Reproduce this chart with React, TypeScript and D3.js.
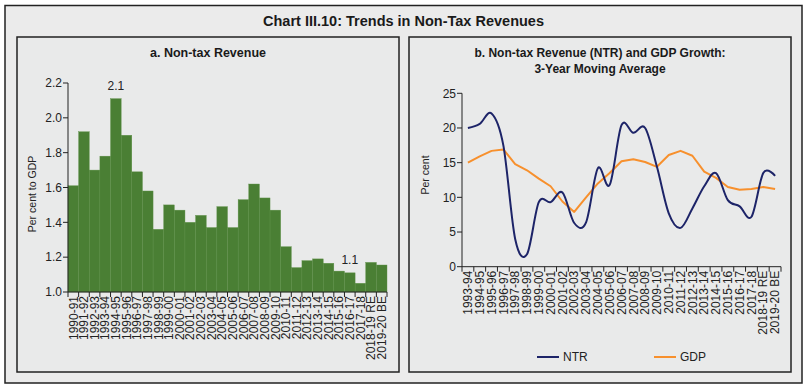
import React, { useEffect, useRef } from 'react';
import * as d3 from 'd3';

// panel a: non-tax revenue, per cent to GDP
const yearsA = [
  '1990-91', '1991-92', '1992-93', '1993-94', '1994-95', '1995-96', '1996-97', '1997-98',
  '1998-99', '1999-00', '2000-01', '2001-02', '2002-03', '2003-04', '2004-05', '2005-06',
  '2006-07', '2007-08', '2008-09', '2009-10', '2010-11', '2011-12', '2012-13', '2013-14',
  '2014-15', '2015-16', '2016-17', '2017-18', '2018-19 RE', '2019-20 BE',
];
const nonTax = [
  1.61, 1.92, 1.70, 1.78, 2.11, 1.90, 1.69, 1.58, 1.36, 1.50, 1.47, 1.40, 1.44, 1.37, 1.49,
  1.37, 1.53, 1.62, 1.54, 1.47, 1.26, 1.14, 1.18, 1.19, 1.165, 1.12, 1.11, 1.05, 1.17, 1.155,
];
const barLabels = [
  { year: '1994-95', text: '2.1' },
  { year: '2016-17', text: '1.1' },
];
const ticksA = [1.0, 1.2, 1.4, 1.6, 1.8, 2.0, 2.2];

// panel b: 3-year moving average growth
const yearsB = yearsA.slice(3);
const ntr = [
  20.0, 20.6, 22.1, 17.5, 4.0, 1.8, 9.3, 9.3, 10.7, 6.3, 6.4, 14.2, 11.8, 20.4, 19.3, 20.0,
  14.4, 7.7, 5.6, 8.4, 11.6, 13.5, 9.6, 8.7, 7.2, 13.5, 13.1,
];
const gdp = [
  15.0, 15.9, 16.7, 16.9, 14.8, 13.9, 12.7, 11.6, 9.4, 7.9, 10.0, 12.0, 13.5, 15.2, 15.5, 15.1,
  14.4, 16.1, 16.7, 16.0, 13.7, 12.8, 11.5, 11.1, 11.2, 11.5, 11.2,
];
const ticksB = [0, 5, 10, 15, 20, 25];

const W = 807;
const H = 388;
const FONT = '"Liberation Sans", Arial, Helvetica, sans-serif';
const BAR = '#4a7f34';
const NAVY = '#1d2468';
const ORANGE = '#f7902d';

function drawXAxis(g, x, y0) {
  const [r0, r1] = x.range();
  const step = x.step();
  const n = x.domain().length;
  g.append('line')
    .attr('x1', r0).attr('x2', r1).attr('y1', y0).attr('y2', y0)
    .attr('stroke', '#222').attr('stroke-width', 1);
  for (let i = 0; i <= n; i++) {
    const xx = r0 + i * step;
    g.append('line')
      .attr('x1', xx).attr('x2', xx).attr('y1', y0).attr('y2', y0 + 5)
      .attr('stroke', '#222').attr('stroke-width', 1);
  }
  x.domain().forEach((d) => {
    const cx = x(d) + x.bandwidth() / 2;
    g.append('text')
      .attr('transform', `translate(${cx},${y0 + 4}) rotate(-90)`)
      .attr('text-anchor', 'end')
      .attr('dy', '0.35em')
      .attr('font-size', 12)
      .attr('fill', '#222')
      .text(d);
  });
}

function drawYAxis(g, y, x0, ticks, fmt) {
  const [a, b] = y.range();
  g.append('line')
    .attr('x1', x0).attr('x2', x0).attr('y1', a).attr('y2', b)
    .attr('stroke', '#222').attr('stroke-width', 1);
  ticks.forEach((t) => {
    g.append('line')
      .attr('x1', x0 - 5).attr('x2', x0).attr('y1', y(t)).attr('y2', y(t))
      .attr('stroke', '#222').attr('stroke-width', 1);
    g.append('text')
      .attr('x', x0 - 6)
      .attr('y', y(t))
      .attr('dy', '0.35em')
      .attr('text-anchor', 'end')
      .attr('font-size', 12)
      .attr('fill', '#222')
      .text(fmt(t));
  });
}

function title(g, x, y, size, text) {
  g.append('text')
    .attr('x', x).attr('y', y)
    .attr('text-anchor', 'middle')
    .attr('font-weight', 'bold')
    .attr('font-size', size)
    .attr('fill', '#1a1a1a')
    .text(text);
}

export default function App() {
  const svgRef = useRef(null);

  useEffect(() => {
    const svg = d3.select(svgRef.current);
    svg.selectAll('*').remove();
    svg.attr('font-family', FONT);

    // frames
    svg.append('rect').attr('width', W).attr('height', H).attr('fill', '#ffffff');
    svg.append('rect')
      .attr('x', 5).attr('y', 5.5).attr('width', 797).attr('height', 377.5)
      .attr('fill', '#ebebeb').attr('stroke', '#222').attr('stroke-width', 1.5);
    [17, 409].forEach((px) => {
      svg.append('rect')
        .attr('x', px).attr('y', 37).attr('width', 382).attr('height', 335)
        .attr('fill', '#e9eaea').attr('stroke', '#222').attr('stroke-width', 1.5);
    });

    title(svg, 403.5, 26, 14.5, 'Chart III.10: Trends in Non-Tax Revenues');

    // ---- panel a
    const ga = svg.append('g');
    title(ga, 208, 57, 12.5, 'a. Non-tax Revenue');

    const xa = d3.scaleBand().domain(yearsA).range([68, 387]).padding(0);
    const ya = d3.scaleLinear().domain([1.0, 2.2]).range([292, 83]);

    ga.selectAll('rect.bar')
      .data(nonTax)
      .join('rect')
      .attr('class', 'bar')
      .attr('x', (d, i) => xa(yearsA[i]))
      .attr('width', xa.bandwidth())
      .attr('y', (d) => ya(d))
      .attr('height', (d) => ya(1.0) - ya(d))
      .attr('fill', BAR)
      .attr('stroke', '#5e9148')
      .attr('stroke-width', 0.4);

    barLabels.forEach((l) => {
      const v = nonTax[yearsA.indexOf(l.year)];
      ga.append('text')
        .attr('x', xa(l.year) + xa.bandwidth() / 2)
        .attr('y', ya(v) - 9)
        .attr('text-anchor', 'middle')
        .attr('font-size', 12)
        .attr('fill', '#222')
        .text(l.text);
    });

    drawYAxis(ga, ya, 68, ticksA, d3.format('.1f'));
    drawXAxis(ga, xa, 292);

    ga.append('text')
      .attr('transform', 'translate(32,194) rotate(-90)')
      .attr('text-anchor', 'middle')
      .attr('dy', '0.35em')
      .attr('font-size', 10.5)
      .attr('fill', '#222')
      .text('Per cent to GDP');

    // ---- panel b
    const gb = svg.append('g');
    title(gb, 600, 57, 12, 'b. Non-tax Revenue (NTR) and GDP Growth:');
    title(gb, 600, 72.5, 12, '3-Year Moving Average');

    const xb = d3.scaleBand().domain(yearsB).range([462, 781]).padding(0);
    const yb = d3.scaleLinear().domain([0, 25]).range([266.7, 93.3]);
    const cx = (i) => xb(yearsB[i]) + xb.bandwidth() / 2;

    drawYAxis(gb, yb, 462, ticksB, d3.format('d'));
    drawXAxis(gb, xb, 266.7);

    gb.append('text')
      .attr('transform', 'translate(425,175) rotate(-90)')
      .attr('text-anchor', 'middle')
      .attr('dy', '0.35em')
      .attr('font-size', 10.5)
      .attr('fill', '#222')
      .text('Per cent');

    const lineNtr = d3.line()
      .x((d, i) => cx(i))
      .y((d) => yb(d))
      .curve(d3.curveCardinal);
    const lineGdp = d3.line()
      .x((d, i) => cx(i))
      .y((d) => yb(d));

    gb.append('path')
      .datum(gdp)
      .attr('fill', 'none')
      .attr('stroke', ORANGE)
      .attr('stroke-width', 2)
      .attr('stroke-linejoin', 'round')
      .attr('d', lineGdp);
    gb.append('path')
      .datum(ntr)
      .attr('fill', 'none')
      .attr('stroke', NAVY)
      .attr('stroke-width', 2)
      .attr('d', lineNtr);

    // legend
    const legend = [
      { name: 'NTR', color: NAVY, x: 537 },
      { name: 'GDP', color: ORANGE, x: 654 },
    ];
    legend.forEach((l) => {
      gb.append('line')
        .attr('x1', l.x).attr('x2', l.x + 22).attr('y1', 357).attr('y2', 357)
        .attr('stroke', l.color).attr('stroke-width', 2);
      gb.append('text')
        .attr('x', l.x + 26).attr('y', 357)
        .attr('dy', '0.35em')
        .attr('font-size', 12)
        .attr('fill', '#222')
        .text(l.name);
    });
  }, []);

  return (
    <svg
      ref={svgRef}
      width={W}
      height={H}
      style={{ position: 'absolute', left: 0, top: 0, display: 'block' }}
    />
  );
}
